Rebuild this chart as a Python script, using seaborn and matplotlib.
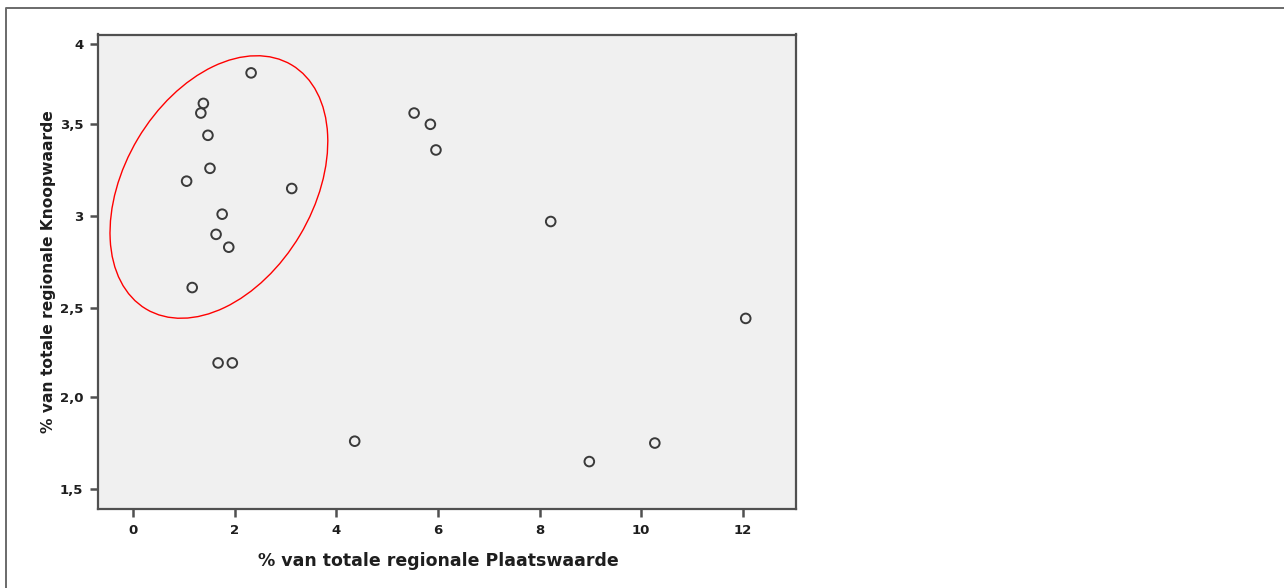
import numpy as np
import pandas as pd
import matplotlib
matplotlib.use("Agg")
import matplotlib.pyplot as plt
import seaborn as sns
from matplotlib.patches import Ellipse
from matplotlib.lines import Line2D

# ---- data ----
plaatswaarde = [2.32, 1.38, 1.33, 1.47, 1.51, 1.05, 3.12, 1.75, 1.63, 1.88, 1.16,
                5.53, 5.85, 5.96, 8.22, 12.06, 1.67, 1.95, 4.36, 10.27, 8.98]
knoopwaarde = [3.82, 3.63, 3.57, 3.44, 3.26, 3.19, 3.15, 3.01, 2.90, 2.83, 2.61,
               3.57, 3.50, 3.36, 2.97, 2.44, 2.19, 2.19, 1.76, 1.75, 1.65]
x_ticks = [0, 2, 4, 6, 8, 10, 12]
y_ticks = [1.5, 2.0, 2.5, 3.0, 3.5, 4.0]
y_tick_labels = ["1,5", "2,0", "2,5", "3", "3,5", "4"]
x_label = "% van totale regionale Plaatswaarde"
y_label = "% van totale regionale Knoopwaarde"

df = pd.DataFrame({"x": plaatswaarde, "y": knoopwaarde})

# piecewise-linear y scale (the reference axis has uneven tick spacing)
scale_vals = np.array([1.0, 1.5, 2.0, 2.5, 3.0, 3.5, 4.0, 4.5])
scale_units = -np.array([489.3 + 92.6, 489.3, 396.7, 307.7, 216.0, 124.3, 44.0, 44.0 - 80.3])

def fwd(v):
    return np.interp(v, scale_vals, scale_units)

def inv(u):
    return np.interp(u, scale_units, scale_vals)

sns.set_theme(style="white")
plt.rcParams["font.family"] = ["DejaVu Sans"]

W, H = 1284, 588
fig = plt.figure(figsize=(W / 100, H / 100), dpi=100)
fig.patch.set_facecolor("white")
ax = fig.add_axes([98 / W, (H - 509) / H, (796 - 98) / W, (509 - 34.5) / H])
ax.set_facecolor("#f0f0f0")

sns.scatterplot(data=df, x="x", y="y", ax=ax, marker="o", s=48,
                facecolors="none", edgecolor="#3a3a3a", linewidth=1.4, zorder=3)

ax.set_yscale("function", functions=(fwd, inv))
ax.set_xlim(-0.695, 13.05)
ax.set_ylim(1.394, 4.059)
ax.set_xticks(x_ticks)
ax.set_xticklabels([str(t) for t in x_ticks])
ax.set_yticks(y_ticks)
ax.set_yticklabels(y_tick_labels)
ax.minorticks_off()

for sp in ax.spines.values():
    sp.set_color("#505050")
    sp.set_linewidth(1.6)

ax.tick_params(axis="both", which="major", direction="out", length=5.5, width=1.8,
               color="#505050", labelsize=9.5, labelcolor="#1e1e1e", pad=5,
               bottom=True, left=True, top=False, right=False)
for lab in ax.get_xticklabels() + ax.get_yticklabels():
    lab.set_fontweight("bold")

ax.set_xlabel(x_label, fontsize=12.5, fontweight="bold", color="#1e1e1e")
ax.set_ylabel(y_label, fontsize=11.2, fontweight="bold", color="#1e1e1e")
ax.xaxis.set_label_coords((438.5 - 98) / (796 - 98), -(561 - 509) / (509 - 34.5))
ax.yaxis.set_label_coords(-(98 - 49) / (796 - 98), 0.5)
ax.xaxis.label.set_va("center")
ax.yaxis.label.set_va("center")

# red annotation ellipse (drawn in figure inches)
ell = Ellipse((2.189, 4.01), width=2.842, height=1.886, angle=59.2,
              transform=fig.dpi_scale_trans, fill=False, edgecolor="red", linewidth=1.0)
fig.add_artist(ell)

# figure border (top and left edges visible)
border = Line2D([6 / W, 6 / W, 1.0], [0.0, (H - 8) / H, (H - 8) / H],
                transform=fig.transFigure, color="#6a6a6a", linewidth=1.4)
fig.add_artist(border)

fig.savefig("out.png", dpi=100)
